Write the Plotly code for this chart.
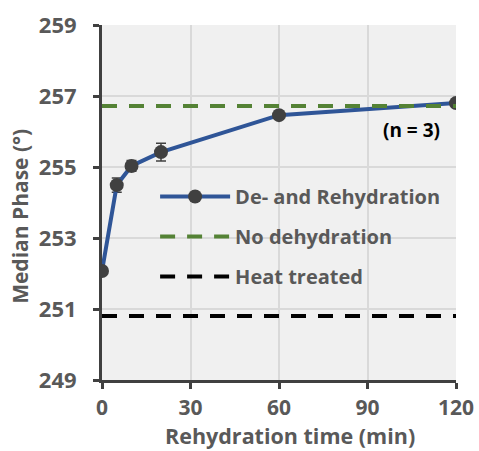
import plotly.graph_objects as go

time_min = [0, 5, 10, 20, 60, 120]
phase = [252.07, 254.49, 255.03, 255.42, 256.46, 256.80]
phase_err = [0.0, 0.2, 0.15, 0.25, 0.0, 0.0]
no_dehydration = 256.72
heat_treated = 250.80
x_ticks = [0, 30, 60, 90, 120]
y_ticks = [249, 251, 253, 255, 257, 259]

FONT = "Open Sans"
GRAY = "#595959"

fig = go.Figure()
fig.add_trace(go.Scatter(
    x=time_min, y=phase, mode="lines+markers", name="De- and Rehydration",
    legendgroup="a",
    line=dict(color="#2F5597", width=4),
    marker=dict(color="#404040", size=14),
    error_y=dict(type="data", array=phase_err, color="#404040", thickness=1.5, width=5),
))
fig.add_trace(go.Scatter(
    x=[0, 120], y=[no_dehydration]*2, mode="lines", name="No dehydration",
    legendgroup="b",
    line=dict(color="#548235", width=4, dash="15px,12px"),
))
fig.add_trace(go.Scatter(
    x=[0, 120], y=[heat_treated]*2, mode="lines", name="Heat treated",
    legendgroup="c",
    line=dict(color="#000000", width=4, dash="15px,12px"),
))

fig.add_annotation(x=105, y=256.04, text="<b>(n = 3)</b>", showarrow=False,
                   font=dict(family=FONT, size=19, color="#000000"))
# axis titles
fig.add_annotation(xref="paper", yref="paper", x=0.531, y=-0.2,
                   xanchor="center", yanchor="bottom", showarrow=False, borderpad=0,
                   text="<b>Rehydration time (min)</b>",
                   font=dict(family=FONT, size=21.5, color=GRAY))
fig.add_annotation(xref="paper", yref="paper", x=-0.232, y=0.462,
                   xanchor="center", yanchor="middle", showarrow=False, textangle=-90,
                   text="<b>Median Phase (°)</b>",
                   font=dict(family=FONT, size=21, color=GRAY))

fig.update_layout(
    width=479, height=451,
    margin=dict(l=102, r=23, t=25, b=71),
    paper_bgcolor="white", plot_bgcolor="#F0F0F0",
    showlegend=True,
    legend=dict(x=0.15, y=0.572, xanchor="left", yanchor="top",
                bgcolor="rgba(0,0,0,0)", itemwidth=70,
                font=dict(family=FONT, size=20, color=GRAY, weight="bold"),
                tracegroupgap=11),
    font=dict(family=FONT),
)
fig.update_xaxes(
    range=[0, 120], tickvals=x_ticks, showgrid=True, gridcolor="#D9D9D9", gridwidth=1.5,
    showline=True, linecolor="#404040", linewidth=3,
    ticks="outside", ticklen=6, tickwidth=3, tickcolor="#404040",
    ticklabelstandoff=1,
    tickfont=dict(family=FONT, size=21, color=GRAY, weight="bold"),
    zeroline=False, automargin=False,
)
fig.update_yaxes(
    range=[249, 259], tickvals=y_ticks, showgrid=True, gridcolor="#D9D9D9", gridwidth=1.5,
    showline=True, linecolor="#404040", linewidth=3,
    ticks="outside", ticklen=6, tickwidth=3, tickcolor="#404040",
    ticklabelstandoff=12,
    tickfont=dict(family=FONT, size=22, color=GRAY, weight="bold"),
    zeroline=False, automargin=False,
)
fig.write_html("out.html")
